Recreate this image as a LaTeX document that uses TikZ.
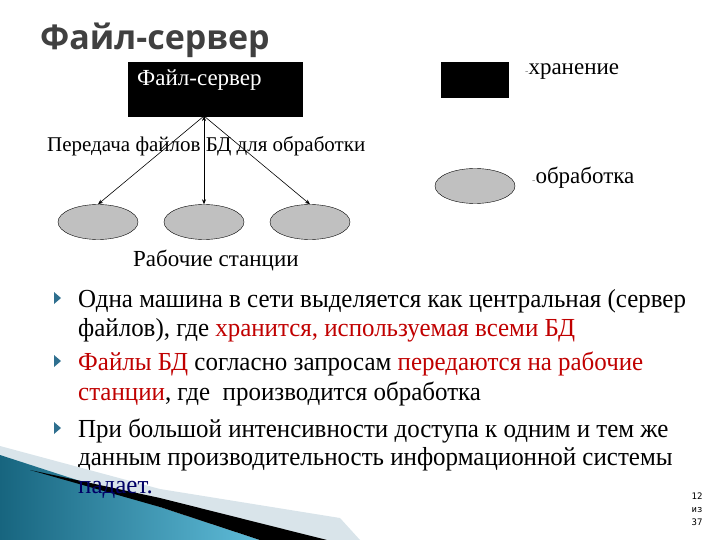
\documentclass[tikz,border=0pt]{standalone}
\usepackage{fontspec}
\usepackage{tikz}
\usetikzlibrary{arrows.meta,positioning,shapes.geometric}
\setmainfont{Liberation Serif}
\newfontfamily\bodyfont[FakeStretch=0.96]{Liberation Serif}
\newfontfamily\titlefont{Open Sans}
\newfontfamily\numfont{DejaVu Sans Mono}
\definecolor{titlegray}{HTML}{404040}
\definecolor{wsgray}{HTML}{C0C0C0}
\definecolor{hlred}{HTML}{C00000}
\definecolor{bullcol}{HTML}{2F6F8F}
\definecolor{swooshA}{HTML}{17657F}
\definecolor{swooshB}{HTML}{5FBCD9}
\definecolor{swooshC}{HTML}{D9E4EA}
\tikzset{
  server/.style={draw=black,fill=black,minimum width=174pt,minimum height=54pt,inner sep=0pt},
  station/.style={ellipse,draw=black,fill=wsgray,minimum width=80pt,minimum height=35pt,inner sep=0pt},
  lbl/.style={anchor=base west,font=\fontsize{23}{25}\selectfont,inner sep=0pt},
  body/.style={anchor=base west,inner sep=0pt,font=\bodyfont\fontsize{26}{29}\selectfont},
  bull/.style={fill=bullcol}
}
\begin{document}
\begin{tikzpicture}[x=1pt,y=-1pt]
  \useasboundingbox (0,0) rectangle (720,540);
  % title
  \node[anchor=base west,inner sep=0pt,text=titlegray,font=\titlefont\bfseries\fontsize{34}{36}\selectfont] (title) at (40,50) {Файл-сервер};
  % scheme
  \node[server] (srv) at (215,89) {};
  \node[lbl,text=white] (srvtxt) at (137,86) {Файл-сервер};
  \node[station] (ws1) at (98,222) {};
  \node[station] (ws2) at (204,222) {};
  \node[station] (ws3) at (310,222) {};
  \coordinate (fork) at (204,116);
  \path[-{Stealth[length=5pt,width=4pt]},draw,semithick]
    (fork) edge (ws1.north)
    (fork) edge (ws2.north)
    (fork) edge (ws3.north);
  \node[lbl,font=\fontsize{21}{23}\selectfont] (transfer) at (47,152) {Передача файлов БД для обработки};
  \node[lbl] (wslbl) at (133,266) {Рабочие станции};
  % legend
  \node[draw=black,fill=black,minimum width=67pt,minimum height=35pt,inner sep=0pt] (keysrv) at (474.5,79.5) {};
  \node[lbl] (keystore) at (525,75) {\textcolor{gray}{\fontsize{10}{10}\selectfont-}хранение};
  \node[station] (keyws) at (475,186) {};
  \node[lbl] (keyproc) at (532,184) {\textcolor{gray}{\fontsize{10}{10}\selectfont-}обработка};
  % bullets
  \foreach \y in {298,361,428}
    \fill[bull] (54,\y-6) -- (61,\y) -- (54,\y+6) -- cycle;
  \node[body] (l1) at (78,307) {Одна машина в сети выделяется как центральная (сервер};
  \node[body] (l2) at (78,336) {файлов), где \textcolor{hlred}{хранится, используемая всеми БД}};
  \node[body] (l3) at (78,370) {\textcolor{hlred}{Файлы БД} согласно запросам \textcolor{hlred}{передаются на рабочие}};
  \node[body] (l4) at (78,400) {\textcolor{hlred}{станции}, где\ \ производится обработка};
  \node[body] (l5) at (78,437) {При большой интенсивности доступа к одним и тем же};
  \node[body] (l6) at (78,465) {данным производительность информационной системы};
  % swoosh
  \fill[swooshC] (0,446) -- (160,489) -- (340,518) -- (360,540) -- (0,540) -- cycle;
  \shade[left color=swooshA,right color=swooshB] (0,455) -- (160,507) -- (260,540) -- (0,540) -- cycle;
  \fill[black] (30,470) -- (160,498) -- (327,540) -- (260,540) -- (160,507) -- cycle;
  \node[body,text=black!60!blue] (l7) at (78,493) {падает.};
  % page number
  \node[inner sep=0pt,align=center,font=\numfont\fontsize{9}{13}\selectfont] (pgno) at (697,509) {12\\из\\37};
\end{tikzpicture}
\end{document}
